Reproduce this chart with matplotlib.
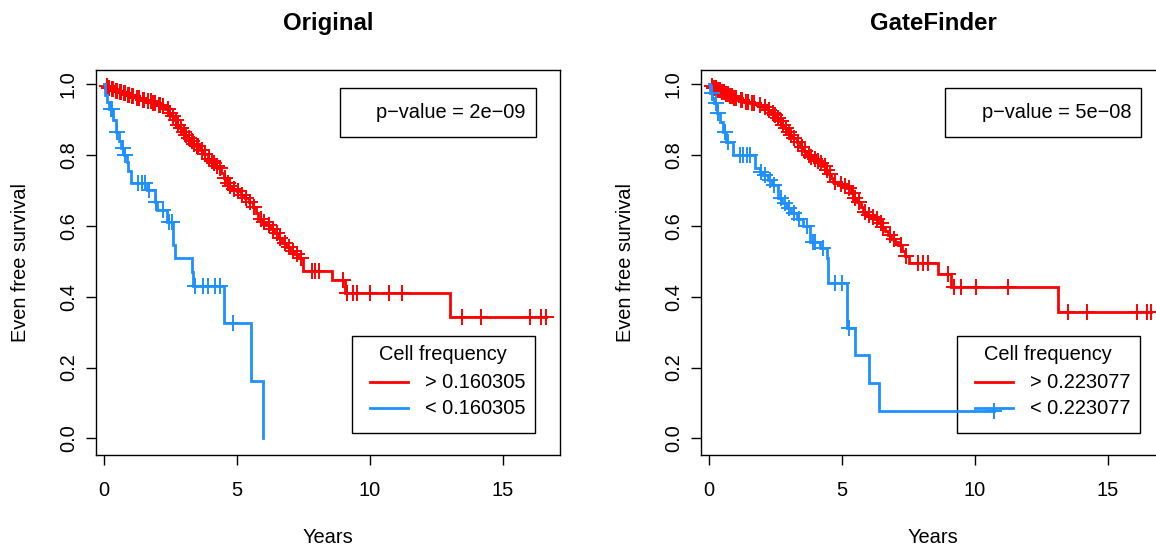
import numpy as np
import matplotlib.pyplot as plt
from matplotlib.patches import Rectangle
from matplotlib.lines import Line2D

plt.rcParams['font.family'] = ['Liberation Sans', 'DejaVu Sans']

RED = '#FF0000'
BLUE = '#1E90FF'

# ---- Original: high group (event times / survival after each event, censor times)
orig_hi_t = [0.05, 0.15, 0.25, 0.4, 0.55, 0.7, 0.85, 1.0, 1.2, 1.4, 1.6, 1.8, 2.0, 2.15,
             2.3, 2.45, 2.55, 2.65, 2.75, 2.85, 2.95, 3.05, 3.15, 3.25, 3.35, 3.45, 3.6,
             3.75, 3.9, 4.0, 4.1, 4.2, 4.3, 4.4, 4.5, 4.6, 4.7, 4.85, 5.0, 5.15, 5.3, 5.45,
             5.6, 5.7, 5.8, 5.95, 6.1, 6.25, 6.4, 6.55, 6.7, 6.85, 7.0, 7.15, 7.3, 7.48,
             8.57, 9.06, 13.0]
orig_hi_s = [0.995, 0.99, 0.986, 0.982, 0.978, 0.974, 0.97, 0.966, 0.961, 0.956, 0.952,
             0.947, 0.942, 0.937, 0.931, 0.92, 0.91, 0.898, 0.886, 0.876, 0.866, 0.856,
             0.848, 0.84, 0.832, 0.825, 0.815, 0.803, 0.79, 0.784, 0.777, 0.77, 0.762,
             0.748, 0.735, 0.722, 0.713, 0.705, 0.697, 0.688, 0.678, 0.666, 0.652, 0.636,
             0.62, 0.612, 0.603, 0.592, 0.579, 0.565, 0.552, 0.54, 0.53, 0.52, 0.508,
             0.472, 0.446, 0.41, 0.342]
orig_hi_cens = [0.1, 0.2, 0.3, 0.35, 0.45, 0.5, 0.6, 0.65, 0.75, 0.8, 0.9, 0.95, 1.05, 1.1,
                1.25, 1.3, 1.45, 1.5, 1.65, 1.75, 1.85, 1.9, 2.05, 2.1, 2.2, 2.4, 2.5, 2.6,
                2.7, 2.8, 2.9, 3.0, 3.1, 3.2, 3.3, 3.4, 3.5, 3.55, 3.7, 3.8, 3.95, 4.05,
                4.15, 4.25, 4.35, 4.55, 4.65, 4.75, 4.9, 5.05, 5.2, 5.35, 5.5, 5.65, 5.9,
                6.0, 6.2, 6.35, 6.5, 6.6, 6.8, 6.95, 7.1, 7.25, 7.4, 7.8, 7.93, 8.1, 8.98,
                9.13, 9.36, 9.51, 10.0, 10.7, 11.2, 13.46, 14.17, 16.0, 16.43, 16.6]

# ---- Original: low group
orig_lo_t = [0.05, 0.1, 0.2, 0.35, 0.45, 0.55, 0.65, 0.75, 0.85, 0.9, 1.0, 1.6, 1.9, 2.0,
             2.37, 2.6, 2.67, 3.3, 3.35, 4.5, 5.53, 5.98]
orig_lo_s = [0.97, 0.95, 0.93, 0.9, 0.865, 0.84, 0.82, 0.8, 0.78, 0.755, 0.72, 0.7, 0.667,
             0.645, 0.61, 0.545, 0.51, 0.47, 0.43, 0.325, 0.161, 0.0]
orig_lo_cens = [0.25, 0.3, 0.5, 0.7, 0.8, 1.28, 1.43, 1.54, 1.7, 1.95, 2.2, 2.45, 2.55,
                3.42, 3.72, 3.9, 4.17, 4.36, 4.85]

# ---- GateFinder: high group
gf_hi_t = [0.05, 0.15, 0.3, 0.45, 0.6, 0.75, 0.9, 1.1, 1.3, 1.5, 1.8, 2.0, 2.2, 2.35, 2.45,
           2.56, 2.65, 2.75, 2.85, 2.94, 3.05, 3.15, 3.3, 3.43, 3.55, 3.7, 3.8, 3.92, 4.05,
           4.15, 4.3, 4.4, 4.5, 4.6, 4.68, 4.85, 5.0, 5.2, 5.35, 5.45, 5.58, 5.7, 5.8, 5.95,
           6.1, 6.2, 6.35, 6.5, 6.6, 6.72, 6.85, 7.0, 7.1, 7.25, 7.35, 7.5, 8.6, 9.1, 13.1]
gf_hi_s = [0.995, 0.99, 0.984, 0.978, 0.972, 0.966, 0.96, 0.955, 0.95, 0.946, 0.94, 0.935,
           0.927, 0.92, 0.913, 0.905, 0.896, 0.886, 0.876, 0.865, 0.857, 0.848, 0.836,
           0.822, 0.812, 0.8, 0.795, 0.79, 0.783, 0.777, 0.77, 0.758, 0.746, 0.734, 0.723,
           0.717, 0.712, 0.706, 0.693, 0.68, 0.667, 0.652, 0.638, 0.631, 0.625, 0.62,
           0.608, 0.596, 0.585, 0.573, 0.563, 0.554, 0.545, 0.53, 0.515, 0.494, 0.463,
           0.427, 0.356]
gf_hi_cens = [0.1, 0.2, 0.25, 0.35, 0.4, 0.5, 0.55, 0.65, 0.7, 0.8, 0.85, 0.95, 1.0, 1.2,
              1.25, 1.4, 1.45, 1.6, 1.7, 1.9, 2.1, 2.25, 2.4, 2.5, 2.6, 2.7, 2.8, 2.9, 3.0,
              3.1, 3.2, 3.35, 3.5, 3.6, 3.75, 3.85, 4.0, 4.1, 4.2, 4.35, 4.45, 4.55, 4.75,
              4.95, 5.1, 5.25, 5.4, 5.5, 5.65, 5.85, 6.0, 6.15, 6.3, 6.45, 6.55, 6.8, 6.95,
              7.2, 7.4, 7.85, 8.04, 8.23, 8.98, 9.2, 9.47, 10.04, 11.25, 13.5, 14.2,
              16.08, 16.45, 16.6]

# ---- GateFinder: low group
gf_lo_t = [0.05, 0.12, 0.2, 0.3, 0.42, 0.53, 0.64, 0.9, 1.74, 1.9, 2.04, 2.2, 2.38, 2.6,
           2.75, 2.94, 3.1, 3.32, 3.55, 3.8, 4.19, 4.45, 4.49, 5.2, 5.5, 6.0, 6.38]
gf_lo_s = [0.975, 0.96, 0.946, 0.92, 0.893, 0.865, 0.836, 0.8, 0.763, 0.752, 0.743, 0.73,
           0.715, 0.678, 0.665, 0.65, 0.635, 0.62, 0.6, 0.553, 0.537, 0.51, 0.438, 0.311,
           0.234, 0.155, 0.076]
gf_lo_cens = [0.1, 0.25, 0.35, 0.6, 0.7, 1.17, 1.28, 1.43, 1.55, 1.95, 2.1, 2.3, 2.45,
              2.7, 2.85, 3.0, 3.2, 3.4, 3.7, 3.9, 4.0, 4.3, 4.75, 5.0, 5.25, 10.7]

titles = ['Original', 'GateFinder']
pvalues = ['p\u2212value = 2e\u221209', 'p\u2212value = 5e\u221208']
cutoffs = ['0.160305', '0.223077']
panels = [(orig_hi_t, orig_hi_s, orig_hi_cens, orig_lo_t, orig_lo_s, orig_lo_cens),
          (gf_hi_t, gf_hi_s, gf_hi_cens, gf_lo_t, gf_lo_s, gf_lo_cens)]


def draw_km(ax, t, s, cens, color):
    t = np.asarray(t)
    s = np.asarray(s)
    cens = np.asarray(cens)
    end = max(t[-1], cens.max())
    tt = np.r_[0, t, end]
    ss = np.r_[1, s, s[-1]]
    ax.step(tt, ss, where='post', color=color, lw=2.0, solid_joinstyle='miter')
    cy = np.r_[1, s][np.searchsorted(t, cens, side='right')]
    ax.plot(cens, cy, linestyle='none', marker='+', ms=12, mew=1.4, color=color)


W, H = 1156, 550
fig = plt.figure(figsize=(W / 100, H / 100), dpi=100)

ax_left = [96, 701]
for k in range(2):
    x0 = ax_left[k]
    ax = fig.add_axes([x0 / W, (H - 455) / H, 464 / W, 385 / H])
    hi_t, hi_s, hi_c, lo_t, lo_s, lo_c = panels[k]
    draw_km(ax, hi_t, hi_s, hi_c, RED)
    draw_km(ax, lo_t, lo_s, lo_c, BLUE)

    ax.set_xlim(-0.3, 17.14)
    ax.set_ylim(-0.047, 1.04)
    ax.set_xticks([0, 5, 10, 15])
    ax.set_yticks([0, 0.2, 0.4, 0.6, 0.8, 1.0])
    ax.set_yticklabels(['0.0', '0.2', '0.4', '0.6', '0.8', '1.0'], rotation=90, va='center')
    ax.tick_params(direction='out', length=7, width=1, labelsize=14.4, colors='black')
    ax.tick_params(axis='x', pad=12)
    ax.tick_params(axis='y', pad=6)
    for sp in ax.spines.values():
        sp.set_linewidth(1)
        sp.set_color('black')
    ax.set_xlabel('Years', fontsize=14.4, labelpad=20)
    ax.set_ylabel('Even free survival', fontsize=14.4, labelpad=21)
    ax.set_title(titles[k], fontsize=17.3, fontweight='bold', pad=29)

    # p-value box
    bx0 = x0 + 244
    ax.add_patch(Rectangle((bx0 / W, (H - 137) / H), 196 / W, 49 / H,
                           transform=fig.transFigure, fill=False, ec='black', lw=1,
                           clip_on=False))
    fig.text((bx0 + 186) / W, (H - 113) / H, pvalues[k], ha='right', va='center',
             fontsize=14.4)

    # legend box
    lx0 = x0 + 256
    ax.add_patch(Rectangle((lx0 / W, (H - 433) / H), 183 / W, 97 / H,
                           transform=fig.transFigure, fill=False, ec='black', lw=1,
                           clip_on=False))
    fig.text((lx0 + 91) / W, (H - 354) / H, 'Cell frequency', ha='center', va='center',
             fontsize=14.4)
    for j, (col, sym) in enumerate([(RED, '>'), (BLUE, '<')]):
        yy = (H - 382 - 26 * j) / H
        fig.add_artist(Line2D([(lx0 + 18) / W, (lx0 + 56) / W], [yy, yy], color=col, lw=2.0))
        fig.text((lx0 + 73) / W, yy, sym + ' ' + cutoffs[k], ha='left', va='center',
                 fontsize=14.4)

fig.savefig('out.png', dpi=100)
